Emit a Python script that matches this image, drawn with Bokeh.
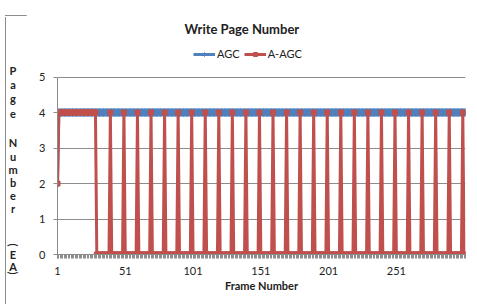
from bokeh.plotting import figure
from bokeh.layouts import row, column
from bokeh.models import Legend, LegendItem, FixedTicker, Range1d, Div
from bokeh.embed import file_html
from bokeh.resources import INLINE

# ---------------- data ----------------
frames = list(range(1, 303))

agc = [
    2, 4, 4, 4, 4, 4, 4, 4, 4, 4, 4, 4, 4, 4, 4, 4, 4, 4, 4, 4,
    4, 4, 4, 4, 4, 4, 4, 4, 4, 4, 4, 4, 4, 4, 4, 4, 4, 4, 4, 4,
    4, 4, 4, 4, 4, 4, 4, 4, 4, 4, 4, 4, 4, 4, 4, 4, 4, 4, 4, 4,
    4, 4, 4, 4, 4, 4, 4, 4, 4, 4, 4, 4, 4, 4, 4, 4, 4, 4, 4, 4,
    4, 4, 4, 4, 4, 4, 4, 4, 4, 4, 4, 4, 4, 4, 4, 4, 4, 4, 4, 4,
    4, 4, 4, 4, 4, 4, 4, 4, 4, 4, 4, 4, 4, 4, 4, 4, 4, 4, 4, 4,
    4, 4, 4, 4, 4, 4, 4, 4, 4, 4, 4, 4, 4, 4, 4, 4, 4, 4, 4, 4,
    4, 4, 4, 4, 4, 4, 4, 4, 4, 4, 4, 4, 4, 4, 4, 4, 4, 4, 4, 4,
    4, 4, 4, 4, 4, 4, 4, 4, 4, 4, 4, 4, 4, 4, 4, 4, 4, 4, 4, 4,
    4, 4, 4, 4, 4, 4, 4, 4, 4, 4, 4, 4, 4, 4, 4, 4, 4, 4, 4, 4,
    4, 4, 4, 4, 4, 4, 4, 4, 4, 4, 4, 4, 4, 4, 4, 4, 4, 4, 4, 4,
    4, 4, 4, 4, 4, 4, 4, 4, 4, 4, 4, 4, 4, 4, 4, 4, 4, 4, 4, 4,
    4, 4, 4, 4, 4, 4, 4, 4, 4, 4, 4, 4, 4, 4, 4, 4, 4, 4, 4, 4,
    4, 4, 4, 4, 4, 4, 4, 4, 4, 4, 4, 4, 4, 4, 4, 4, 4, 4, 4, 4,
    4, 4, 4, 4, 4, 4, 4, 4, 4, 4, 4, 4, 4, 4, 4, 4, 4, 4, 4, 4,
    4, 4,
]

a_agc = [
    2, 4, 4, 4, 4, 4, 4, 4, 4, 4, 4, 4, 4, 4, 4, 4, 4, 4, 4, 4,
    4, 4, 4, 4, 4, 4, 4, 4, 4, 0, 0, 0, 0, 0, 0, 0, 0, 0, 0, 4,
    0, 0, 0, 0, 0, 0, 0, 0, 0, 4, 0, 0, 0, 0, 0, 0, 0, 0, 0, 4,
    0, 0, 0, 0, 0, 0, 0, 0, 0, 4, 0, 0, 0, 0, 0, 0, 0, 0, 0, 4,
    0, 0, 0, 0, 0, 0, 0, 0, 0, 4, 0, 0, 0, 0, 0, 0, 0, 0, 0, 4,
    0, 0, 0, 0, 0, 0, 0, 0, 0, 4, 0, 0, 0, 0, 0, 0, 0, 0, 0, 4,
    0, 0, 0, 0, 0, 0, 0, 0, 0, 4, 0, 0, 0, 0, 0, 0, 0, 0, 0, 4,
    0, 0, 0, 0, 0, 0, 0, 0, 0, 4, 0, 0, 0, 0, 0, 0, 0, 0, 0, 4,
    0, 0, 0, 0, 0, 0, 0, 0, 0, 4, 0, 0, 0, 0, 0, 0, 0, 0, 0, 4,
    0, 0, 0, 0, 0, 0, 0, 0, 0, 4, 0, 0, 0, 0, 0, 0, 0, 0, 0, 4,
    0, 0, 0, 0, 0, 0, 0, 0, 0, 4, 0, 0, 0, 0, 0, 0, 0, 0, 0, 4,
    0, 0, 0, 0, 0, 0, 0, 0, 0, 4, 0, 0, 0, 0, 0, 0, 0, 0, 0, 4,
    0, 0, 0, 0, 0, 0, 0, 0, 0, 4, 0, 0, 0, 0, 0, 0, 0, 0, 0, 4,
    0, 0, 0, 0, 0, 0, 0, 0, 0, 4, 0, 0, 0, 0, 0, 0, 0, 0, 0, 4,
    0, 0, 0, 0, 0, 0, 0, 0, 0, 4, 0, 0, 0, 0, 0, 0, 0, 0, 0, 4,
    0, 0,
]

x_tick_values = [1, 51, 101, 151, 201, 251]
y_tick_values = [0, 1, 2, 3, 4, 5]

title_text = "Write Page Number"
x_title = "Frame Number"
y_title_chars = ["P", "a", "g", "e", "N", "u", "m", "b", "e", "r", "(", "E", "A", ")"]

# ---------------- styling ----------------
BLUE = "#4F81BD"
RED = "#C0504D"
GRID = "#8C8C8C"
BORDER = "#8C8C8C"
FONT = "Lato"
TXT = "#222222"
W_TOTAL = 461
TOP_H = 2
W_LEFT = 16
H = 287

# thin strip carrying the chart-area top border
top_strip = Div(width=W_TOTAL, height=TOP_H,
                text=('<div style="position:relative;width:%dpx;height:%dpx;">'
                      '<div style="position:absolute;left:0px;top:0px;width:%dpx;'
                      'height:1px;background:%s;"></div></div>'
                      % (W_TOTAL, TOP_H, W_TOTAL, BORDER)))

# left strip: chart-area left border + stacked y-axis title
letter_centers = [69, 83, 97, 112, 141, 155, 168, 181, 194, 207, 243, 253, 265, 271]
spans = []
for ch, cy in zip(y_title_chars, letter_centers):
    rot = "transform:rotate(90deg);" if ch in "()" else ""
    spans.append('<span style="position:absolute;left:2px;width:12px;top:%dpx;'
                 'height:12px;line-height:12px;text-align:center;%s">%s</span>'
                 % (cy - 21, rot, ch))
left_html = ('<div style="position:relative;width:%dpx;height:%dpx;font-family:%s;'
             'font-size:11px;font-weight:bold;color:%s;">'
             '<div style="position:absolute;left:0px;top:0px;width:1px;height:%dpx;'
             'background:%s;"></div>%s</div>'
             % (W_LEFT, H, FONT, TXT, H, BORDER, "".join(spans)))
left_strip = Div(width=W_LEFT, height=H, text=left_html)

# main chart (frame reaches up to hold the legend; y axis line bounded to 0..5)
p = figure(width=W_TOTAL - W_LEFT, height=H, output_backend="svg", toolbar_location=None,
           title=title_text,
           x_range=Range1d(1, 302), y_range=Range1d(0, 5.944),
           min_border_left=31, min_border_right=6,
           min_border_top=28, min_border_bottom=45)
p.title.align = "left"
p.title.offset = 127
p.title.standoff = 13
p.title.text_font = FONT
p.title.text_font_size = "13px"
p.title.text_font_style = "bold"
p.title.text_color = TXT
p.outline_line_color = None
p.background_fill_color = "white"
p.border_fill_color = "white"

p.xgrid.visible = False
p.ygrid.grid_line_color = GRID
p.ygrid.grid_line_width = 1
p.ygrid.ticker = FixedTicker(ticks=y_tick_values)

p.xaxis.ticker = FixedTicker(ticks=x_tick_values, minor_ticks=frames)
p.xaxis.axis_line_color = GRID
p.xaxis.major_tick_line_color = GRID
p.xaxis.minor_tick_line_color = GRID
p.xaxis.major_tick_out = 4
p.xaxis.major_tick_in = 0
p.xaxis.minor_tick_out = 4
p.xaxis.minor_tick_in = 0
p.xaxis.major_label_standoff = 8
p.xaxis.major_label_text_font = FONT
p.xaxis.major_label_text_font_size = "11px"
p.xaxis.major_label_text_color = TXT
p.xaxis.axis_label = x_title
p.xaxis.axis_label_text_font = FONT
p.xaxis.axis_label_text_font_size = "11px"
p.xaxis.axis_label_text_font_style = "bold"
p.xaxis.axis_label_text_color = TXT
p.xaxis.axis_label_standoff = 1

p.yaxis.ticker = FixedTicker(ticks=y_tick_values)
p.yaxis.bounds = (0, 5)
p.yaxis.axis_line_color = GRID
p.yaxis.major_tick_line_color = GRID
p.yaxis.major_tick_out = 4
p.yaxis.major_tick_in = 0
p.yaxis.minor_tick_line_color = None
p.yaxis.major_label_standoff = 8
p.yaxis.major_label_text_font = FONT
p.yaxis.major_label_text_font_size = "11px"
p.yaxis.major_label_text_color = TXT

# series
l1 = p.line(frames, agc, line_color=BLUE, line_width=3)
m1 = p.scatter(frames, agc, marker="diamond", size=8, fill_color=BLUE, line_color=BLUE)
l2 = p.line(frames, a_agc, line_color=RED, line_width=3)
m2 = p.scatter(frames, a_agc, marker="square", size=5, fill_color=RED, line_color=RED)

legend = Legend(items=[LegendItem(label="AGC", renderers=[l1, m1]),
                       LegendItem(label="A-AGC", renderers=[l2, m2])],
                orientation="horizontal", location=(136, 194),
                label_text_font=FONT, label_text_font_size="11px",
                label_text_color=TXT, glyph_width=22, glyph_height=10,
                label_standoff=2, spacing=4, padding=0, margin=0,
                border_line_color=None, background_fill_alpha=0)
p.add_layout(legend, "center")

layout = column(top_strip, row(left_strip, p, spacing=0), spacing=0)
open("out.html", "w").write(file_html(layout, INLINE))
